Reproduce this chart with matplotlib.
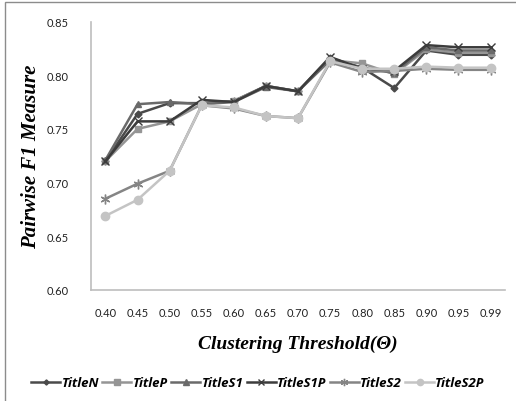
import matplotlib
matplotlib.use("Agg")
import matplotlib.pyplot as plt
from matplotlib.patches import Rectangle

thresholds = ["0.40", "0.45", "0.50", "0.55", "0.60", "0.65", "0.70",
              "0.75", "0.80", "0.85", "0.90", "0.95", "0.99"]
title_n = [0.720, 0.764, 0.774, 0.774, 0.776, 0.790, 0.785, 0.816, 0.807, 0.788, 0.823, 0.819, 0.819]
title_p = [0.720, 0.750, 0.757, 0.773, 0.776, 0.790, 0.785, 0.814, 0.811, 0.801, 0.824, 0.821, 0.821]
title_s1 = [0.721, 0.773, 0.775, 0.773, 0.775, 0.789, 0.785, 0.814, 0.807, 0.802, 0.826, 0.823, 0.823]
title_s1p = [0.720, 0.757, 0.757, 0.777, 0.775, 0.790, 0.785, 0.817, 0.806, 0.804, 0.828, 0.826, 0.826]
title_s2 = [0.685, 0.699, 0.711, 0.772, 0.769, 0.762, 0.760, 0.812, 0.803, 0.804, 0.806, 0.805, 0.805]
title_s2p = [0.669, 0.684, 0.711, 0.772, 0.770, 0.762, 0.760, 0.813, 0.806, 0.806, 0.808, 0.807, 0.807]
y_ticks = [0.60, 0.65, 0.70, 0.75, 0.80, 0.85]

series = [
    ("TitleN", title_n, "#4a4a4a", "D", 3.5),
    ("TitleP", title_p, "#959595", "s", 5),
    ("TitleS1", title_s1, "#6a6a6a", "^", 5),
    ("TitleS1P", title_s1p, "#3c3c3c", "x", 6),
    ("TitleS2", title_s2, "#858585", (6, 2, 0), 7),
    ("TitleS2P", title_s2p, "#c4c4c4", "o", 6),
]

fig = plt.figure(figsize=(5.16, 4.02), dpi=100)
fig.patches.append(Rectangle((5 / 516, -0.1), 1.2, 1 - 3 / 402 + 0.1,
                             transform=fig.transFigure, fill=False,
                             edgecolor="#8c8c8c", linewidth=1.0))
ax = fig.add_axes([91 / 516, 1 - 291 / 402, (505 - 91) / 516, (291 - 22.5) / 402])

x = list(range(len(thresholds)))
for name, vals, color, marker, ms in series:
    ax.plot(x, vals, color=color, marker=marker, markersize=ms, linewidth=1.8,
            markeredgewidth=1.0, label=name)

ax.set_ylim(0.60, 0.85)
ax.set_xlim(-0.45, len(thresholds) - 0.55)
ax.set_yticks(y_ticks)
ax.set_yticklabels([f"{v:.2f}" for v in y_ticks], fontfamily="Lato", fontsize=8, color="#222222")
ax.set_xticks(x)
ax.set_xticklabels(thresholds, fontfamily="Lato", fontsize=8, color="#222222")
ax.tick_params(axis="both", length=0, pad=12)
ax.tick_params(axis="y", pad=16)
for s in ["top", "right"]:
    ax.spines[s].set_visible(False)
for s in ["left", "bottom"]:
    ax.spines[s].set_color("#bdbdbd")
    ax.spines[s].set_linewidth(1.2)

ax.set_xlabel("Clustering Threshold(Θ)", fontfamily="Liberation Serif",
              fontweight="bold", fontstyle="italic", fontsize=14, labelpad=12)
ax.set_ylabel("Pairwise F1 Measure", fontfamily="Liberation Serif",
              fontweight="bold", fontstyle="italic", fontsize=15, labelpad=4)

leg = fig.legend(loc="center", bbox_to_anchor=(0.5, 1 - 384 / 402), ncol=6,
                 frameon=False, handlelength=2.2, handletextpad=0.1,
                 columnspacing=0.25, markerscale=0.75,
                 prop={"family": "Open Sans", "weight": "bold",
                       "style": "italic", "size": 9.5})

fig.savefig("out.png", dpi=100)
